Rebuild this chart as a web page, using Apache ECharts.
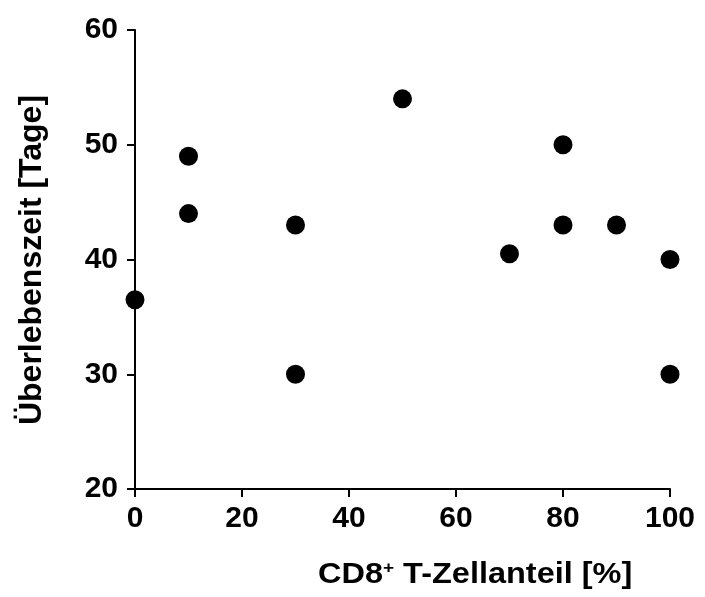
<!DOCTYPE html>
<html>
<head>
<meta charset="utf-8">
<script src="https://cdn.jsdelivr.net/npm/echarts@6/dist/echarts.min.js"></script>
<style>
  html, body { margin: 0; padding: 0; background: #fff; }
  #chart { width: 705px; height: 597px; }
</style>
</head>
<body>
<div id="chart"></div>
<script>
// CD8+ T-cell share (%) versus survival time (days)
const cd8Share = [0, 10, 10, 30, 30, 50, 70, 80, 80, 90, 100, 100];
const survivalDays = [36.5, 49, 44, 43, 30, 54, 40.5, 50, 43, 43, 40, 30];
const xTicks = [0, 20, 40, 60, 80, 100];
const yTicks = [20, 30, 40, 50, 60];

const FONT = '"Liberation Sans", Arial, Helvetica, sans-serif';

const chart = echarts.init(document.getElementById('chart'), null, { renderer: 'canvas' });

const points = cd8Share.map((x, i) => [x, survivalDays[i]]);

chart.setOption({
  animation: false,
  backgroundColor: '#ffffff',
  grid: { left: 135, right: 35, top: 30, bottom: 108, containLabel: false },
  xAxis: {
    type: 'value',
    min: xTicks[0],
    max: xTicks[xTicks.length - 1],
    interval: 20,
    axisLine: { show: true, onZero: false, lineStyle: { color: '#000', width: 2 } },
    axisTick: { show: true, length: 8, lineStyle: { color: '#000', width: 2 } },
    axisLabel: { margin: 15, color: '#000', fontFamily: FONT, fontWeight: 'bold', fontSize: 30 },
    splitLine: { show: false }
  },
  yAxis: {
    type: 'value',
    min: yTicks[0],
    max: yTicks[yTicks.length - 1],
    interval: 10,
    axisLine: { show: true, onZero: false, lineStyle: { color: '#000', width: 2 } },
    axisTick: { show: true, length: 8, lineStyle: { color: '#000', width: 2 } },
    axisLabel: { margin: 17, color: '#000', fontFamily: FONT, fontWeight: 'bold', fontSize: 30 },
    splitLine: { show: false }
  },
  graphic: [
    {
      type: 'text',
      x: 318,
      y: 589,
      scaleX: 1.12,
      style: {
        text: '{b|CD8}{s|+}{b| T-Zellanteil [%]}',
        verticalAlign: 'bottom',
        rich: {
          b: { fontFamily: FONT, fontWeight: 'bold', fontSize: 29, fill: '#000', verticalAlign: 'bottom' },
          s: { fontFamily: FONT, fontWeight: 'bold', fontSize: 17, fill: '#000', verticalAlign: 'top', padding: [0, 0, 12, 0] }
        }
      }
    },
    {
      type: 'text',
      x: 32,
      y: 260,
      rotation: Math.PI / 2,
      style: {
        text: 'Überlebenszeit [Tage]',
        fontFamily: FONT,
        fontWeight: 'bold',
        fontSize: 32,
        fill: '#000',
        align: 'center',
        verticalAlign: 'middle'
      }
    }
  ],
  series: [{
    type: 'scatter',
    data: points,
    symbol: 'circle',
    symbolSize: 19,
    clip: false,
    itemStyle: { color: '#000', opacity: 1 }
  }]
});
</script>
</body>
</html>
